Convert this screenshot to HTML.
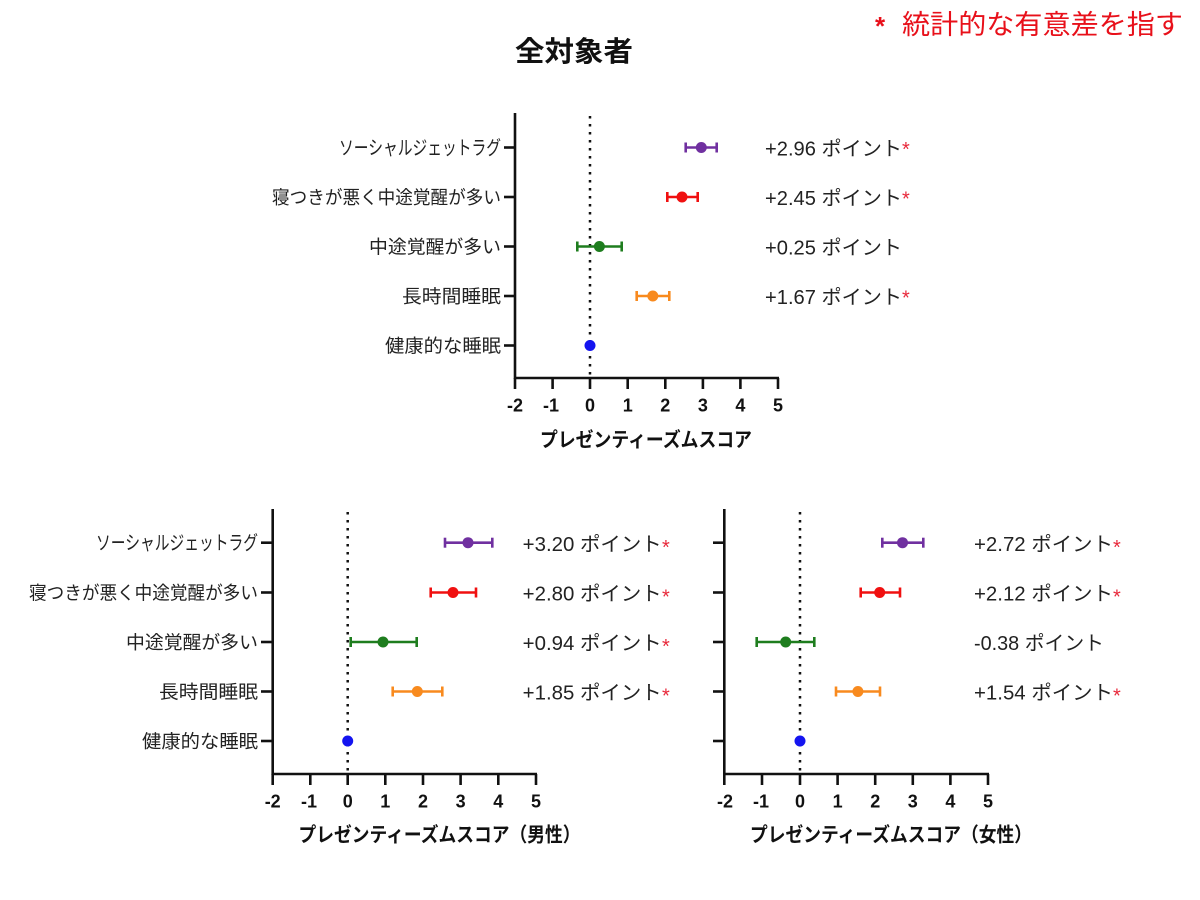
<!DOCTYPE html>
<html><head><meta charset="utf-8"><style>
html,body{margin:0;padding:0;background:#fff;}
svg{display:block;}
text{font-family:"Liberation Sans","Noto Sans CJK JP",sans-serif;}
.cat{font-size:18.5px;fill:#222;text-anchor:end;}
.sjl{font-size:19.5px;}
.val{font-size:20px;fill:#222;}
.tick{font-size:18px;font-weight:bold;fill:#111;text-anchor:middle;}
.ttl{font-size:20px;font-weight:bold;fill:#111;text-anchor:middle;}
.ast{fill:#e8283a;}
</style></head><body>
<svg width="1200" height="900" viewBox="0 0 1200 900" xmlns="http://www.w3.org/2000/svg">
<rect width="1200" height="900" fill="#fff"/>
<!-- header -->
<text x="875" y="35" font-size="26" font-weight="bold" fill="#e8101a">*</text>
<text x="902" y="34" font-size="27" fill="#e8101a" textLength="281" lengthAdjust="spacingAndGlyphs">統計的な有意差を指す</text>
<text x="515" y="61" font-size="28" font-weight="bold" fill="#111" textLength="118" lengthAdjust="spacingAndGlyphs">全対象者</text>

<!-- ===== TOP CHART ===== -->
<g stroke="#111" stroke-width="2.6" fill="none">
<line x1="515" y1="113" x2="515" y2="379"/>
<line x1="514" y1="378" x2="779" y2="378"/>
<line x1="515" y1="378" x2="515" y2="389"/><line x1="552.6" y1="378" x2="552.6" y2="389"/><line x1="590" y1="378" x2="590" y2="389"/><line x1="627.7" y1="378" x2="627.7" y2="389"/><line x1="665.3" y1="378" x2="665.3" y2="389"/><line x1="702.9" y1="378" x2="702.9" y2="389"/><line x1="740.4" y1="378" x2="740.4" y2="389"/><line x1="778" y1="378" x2="778" y2="389"/>
<line x1="504" y1="147.5" x2="515" y2="147.5"/><line x1="504" y1="197" x2="515" y2="197"/><line x1="504" y1="246.5" x2="515" y2="246.5"/><line x1="504" y1="296" x2="515" y2="296"/><line x1="504" y1="345.5" x2="515" y2="345.5"/>
</g>
<line x1="590" y1="116" x2="590" y2="377" stroke="#111" stroke-width="2.5" stroke-dasharray="2.5,5.5"/>
<g>
<text class="tick" x="515" y="411.5">-2</text><text class="tick" x="551" y="411.5">-1</text><text class="tick" x="590" y="411.5">0</text><text class="tick" x="627.7" y="411.5">1</text><text class="tick" x="665.3" y="411.5">2</text><text class="tick" x="702.9" y="411.5">3</text><text class="tick" x="740.4" y="411.5">4</text><text class="tick" x="778" y="411.5">5</text>
</g>
<text class="ttl" x="646" y="446.5" textLength="212" lengthAdjust="spacingAndGlyphs">プレゼンティーズムスコア</text>
<text class="cat sjl" x="501" y="154.5" textLength="162" lengthAdjust="spacingAndGlyphs">ソーシャルジェットラグ</text>
<text class="cat" x="501" y="204" textLength="229" lengthAdjust="spacingAndGlyphs">寝つきが悪く中途覚醒が多い</text>
<text class="cat" x="501" y="253.5" textLength="132" lengthAdjust="spacingAndGlyphs">中途覚醒が多い</text>
<text class="cat" x="501" y="303" textLength="99" lengthAdjust="spacingAndGlyphs">長時間睡眠</text>
<text class="cat" x="501" y="352.5" textLength="116" lengthAdjust="spacingAndGlyphs">健康的な睡眠</text>
<!-- series -->
<g stroke-width="2.6" fill="none">
<g stroke="#7030a0"><line x1="685.7" y1="147.5" x2="716.7" y2="147.5"/><line x1="685.7" y1="142.5" x2="685.7" y2="152.5"/><line x1="716.7" y1="142.5" x2="716.7" y2="152.5"/></g>
<g stroke="#f01010"><line x1="667.3" y1="197" x2="697.7" y2="197"/><line x1="667.3" y1="192" x2="667.3" y2="202"/><line x1="697.7" y1="192" x2="697.7" y2="202"/></g>
<g stroke="#1e7d1e"><line x1="577.3" y1="246.5" x2="621.7" y2="246.5"/><line x1="577.3" y1="241.5" x2="577.3" y2="251.5"/><line x1="621.7" y1="241.5" x2="621.7" y2="251.5"/></g>
<g stroke="#f88a1e"><line x1="636.7" y1="296" x2="669.3" y2="296"/><line x1="636.7" y1="291" x2="636.7" y2="301"/><line x1="669.3" y1="291" x2="669.3" y2="301"/></g>
</g>
<circle cx="701.3" cy="147.5" r="5.5" fill="#7030a0"/>
<circle cx="682" cy="197" r="5.5" fill="#f01010"/>
<circle cx="599.4" cy="246.5" r="5.5" fill="#1e7d1e"/>
<circle cx="652.8" cy="296" r="5.5" fill="#f88a1e"/>
<circle cx="590" cy="345.5" r="5.5" fill="#1414f0"/>
<text class="val" x="765" y="155.5" textLength="137" lengthAdjust="spacingAndGlyphs">+2.96 ポイント</text><text class="val ast" x="902" y="156" font-size="19">*</text>
<text class="val" x="765" y="205" textLength="137" lengthAdjust="spacingAndGlyphs">+2.45 ポイント</text><text class="val ast" x="902" y="205.5" font-size="19">*</text>
<text class="val" x="765" y="254.5" textLength="137" lengthAdjust="spacingAndGlyphs">+0.25 ポイント</text>
<text class="val" x="765" y="304" textLength="137" lengthAdjust="spacingAndGlyphs">+1.67 ポイント</text><text class="val ast" x="902" y="304.5" font-size="19">*</text>

<!-- ===== BOTTOM LEFT ===== -->
<g stroke="#111" stroke-width="2.6" fill="none">
<line x1="272.7" y1="509" x2="272.7" y2="775"/>
<line x1="271.7" y1="774" x2="537" y2="774"/>
<line x1="272.7" y1="774" x2="272.7" y2="785"/><line x1="310.3" y1="774" x2="310.3" y2="785"/><line x1="347.7" y1="774" x2="347.7" y2="785"/><line x1="385.3" y1="774" x2="385.3" y2="785"/><line x1="423" y1="774" x2="423" y2="785"/><line x1="460.6" y1="774" x2="460.6" y2="785"/><line x1="498.3" y1="774" x2="498.3" y2="785"/><line x1="536" y1="774" x2="536" y2="785"/>
<line x1="261" y1="542.7" x2="272.7" y2="542.7"/><line x1="261" y1="592.5" x2="272.7" y2="592.5"/><line x1="261" y1="642" x2="272.7" y2="642"/><line x1="261" y1="691.5" x2="272.7" y2="691.5"/><line x1="261" y1="741" x2="272.7" y2="741"/>
</g>
<line x1="347.7" y1="512" x2="347.7" y2="773" stroke="#111" stroke-width="2.5" stroke-dasharray="2.5,5.5"/>
<g>
<text class="tick" x="272.7" y="807.5">-2</text><text class="tick" x="309" y="807.5">-1</text><text class="tick" x="347.7" y="807.5">0</text><text class="tick" x="385.3" y="807.5">1</text><text class="tick" x="423" y="807.5">2</text><text class="tick" x="460.6" y="807.5">3</text><text class="tick" x="498.3" y="807.5">4</text><text class="tick" x="536" y="807.5">5</text>
</g>
<text class="ttl" x="439.5" y="841.5" textLength="282" lengthAdjust="spacingAndGlyphs">プレゼンティーズムスコア（男性）</text>
<text class="cat sjl" x="258" y="549.7" textLength="162" lengthAdjust="spacingAndGlyphs">ソーシャルジェットラグ</text>
<text class="cat" x="258" y="599.5" textLength="229" lengthAdjust="spacingAndGlyphs">寝つきが悪く中途覚醒が多い</text>
<text class="cat" x="258" y="649" textLength="132" lengthAdjust="spacingAndGlyphs">中途覚醒が多い</text>
<text class="cat" x="258" y="698.5" textLength="99" lengthAdjust="spacingAndGlyphs">長時間睡眠</text>
<text class="cat" x="258" y="748" textLength="116" lengthAdjust="spacingAndGlyphs">健康的な睡眠</text>
<g stroke-width="2.6" fill="none">
<g stroke="#7030a0"><line x1="445" y1="542.7" x2="492.3" y2="542.7"/><line x1="445" y1="537.7" x2="445" y2="547.7"/><line x1="492.3" y1="537.7" x2="492.3" y2="547.7"/></g>
<g stroke="#f01010"><line x1="430.7" y1="592.5" x2="476" y2="592.5"/><line x1="430.7" y1="587.5" x2="430.7" y2="597.5"/><line x1="476" y1="587.5" x2="476" y2="597.5"/></g>
<g stroke="#1e7d1e"><line x1="350.7" y1="642" x2="416.7" y2="642"/><line x1="350.7" y1="637" x2="350.7" y2="647"/><line x1="416.7" y1="637" x2="416.7" y2="647"/></g>
<g stroke="#f88a1e"><line x1="392.7" y1="691.5" x2="442.3" y2="691.5"/><line x1="392.7" y1="686.5" x2="392.7" y2="696.5"/><line x1="442.3" y1="686.5" x2="442.3" y2="696.5"/></g>
</g>
<circle cx="468" cy="542.7" r="5.5" fill="#7030a0"/>
<circle cx="453" cy="592.5" r="5.5" fill="#f01010"/>
<circle cx="383" cy="642" r="5.5" fill="#1e7d1e"/>
<circle cx="417.3" cy="691.5" r="5.5" fill="#f88a1e"/>
<circle cx="347.7" cy="741" r="5.5" fill="#1414f0"/>
<text class="val" x="522.7" y="551" textLength="139" lengthAdjust="spacingAndGlyphs">+3.20 ポイント</text><text class="val ast" x="662" y="554" font-size="25">*</text>
<text class="val" x="522.7" y="600.5" textLength="139" lengthAdjust="spacingAndGlyphs">+2.80 ポイント</text><text class="val ast" x="662" y="603.5" font-size="25">*</text>
<text class="val" x="522.7" y="650" textLength="139" lengthAdjust="spacingAndGlyphs">+0.94 ポイント</text><text class="val ast" x="662" y="653" font-size="25">*</text>
<text class="val" x="522.7" y="699.5" textLength="139" lengthAdjust="spacingAndGlyphs">+1.85 ポイント</text><text class="val ast" x="662" y="702.5" font-size="25">*</text>

<!-- ===== BOTTOM RIGHT ===== -->
<g stroke="#111" stroke-width="2.6" fill="none">
<line x1="724.3" y1="509" x2="724.3" y2="775"/>
<line x1="723.3" y1="774" x2="989" y2="774"/>
<line x1="724.3" y1="774" x2="724.3" y2="785"/><line x1="762" y1="774" x2="762" y2="785"/><line x1="800" y1="774" x2="800" y2="785"/><line x1="837.6" y1="774" x2="837.6" y2="785"/><line x1="875.2" y1="774" x2="875.2" y2="785"/><line x1="912.8" y1="774" x2="912.8" y2="785"/><line x1="950.4" y1="774" x2="950.4" y2="785"/><line x1="988" y1="774" x2="988" y2="785"/>
<line x1="713" y1="542.7" x2="724.3" y2="542.7"/><line x1="713" y1="592.5" x2="724.3" y2="592.5"/><line x1="713" y1="642" x2="724.3" y2="642"/><line x1="713" y1="691.5" x2="724.3" y2="691.5"/><line x1="713" y1="741" x2="724.3" y2="741"/>
</g>
<line x1="800" y1="512" x2="800" y2="773" stroke="#111" stroke-width="2.5" stroke-dasharray="2.5,5.5"/>
<g>
<text class="tick" x="725" y="807.5">-2</text><text class="tick" x="761" y="807.5">-1</text><text class="tick" x="800" y="807.5">0</text><text class="tick" x="837.6" y="807.5">1</text><text class="tick" x="875.2" y="807.5">2</text><text class="tick" x="912.8" y="807.5">3</text><text class="tick" x="950.4" y="807.5">4</text><text class="tick" x="988" y="807.5">5</text>
</g>
<text class="ttl" x="891" y="841.5" textLength="282" lengthAdjust="spacingAndGlyphs">プレゼンティーズムスコア（女性）</text>
<g stroke-width="2.6" fill="none">
<g stroke="#7030a0"><line x1="882.3" y1="542.7" x2="923.3" y2="542.7"/><line x1="882.3" y1="537.7" x2="882.3" y2="547.7"/><line x1="923.3" y1="537.7" x2="923.3" y2="547.7"/></g>
<g stroke="#f01010"><line x1="860.7" y1="592.5" x2="900" y2="592.5"/><line x1="860.7" y1="587.5" x2="860.7" y2="597.5"/><line x1="900" y1="587.5" x2="900" y2="597.5"/></g>
<g stroke="#1e7d1e"><line x1="756.7" y1="642" x2="814.3" y2="642"/><line x1="756.7" y1="637" x2="756.7" y2="647"/><line x1="814.3" y1="637" x2="814.3" y2="647"/></g>
<g stroke="#f88a1e"><line x1="836" y1="691.5" x2="880" y2="691.5"/><line x1="836" y1="686.5" x2="836" y2="696.5"/><line x1="880" y1="686.5" x2="880" y2="696.5"/></g>
</g>
<circle cx="902.5" cy="542.7" r="5.5" fill="#7030a0"/>
<circle cx="879.7" cy="592.5" r="5.5" fill="#f01010"/>
<circle cx="785.7" cy="642" r="5.5" fill="#1e7d1e"/>
<circle cx="857.9" cy="691.5" r="5.5" fill="#f88a1e"/>
<circle cx="800" cy="741" r="5.5" fill="#1414f0"/>
<text class="val" x="974" y="551" textLength="139" lengthAdjust="spacingAndGlyphs">+2.72 ポイント</text><text class="val ast" x="1113" y="554" font-size="25">*</text>
<text class="val" x="974" y="600.5" textLength="139" lengthAdjust="spacingAndGlyphs">+2.12 ポイント</text><text class="val ast" x="1113" y="603.5" font-size="25">*</text>
<text class="val" x="974" y="650" textLength="130" lengthAdjust="spacingAndGlyphs">-0.38 ポイント</text>
<text class="val" x="974" y="699.5" textLength="139" lengthAdjust="spacingAndGlyphs">+1.54 ポイント</text><text class="val ast" x="1113" y="702.5" font-size="25">*</text>
</svg>
</body></html>
